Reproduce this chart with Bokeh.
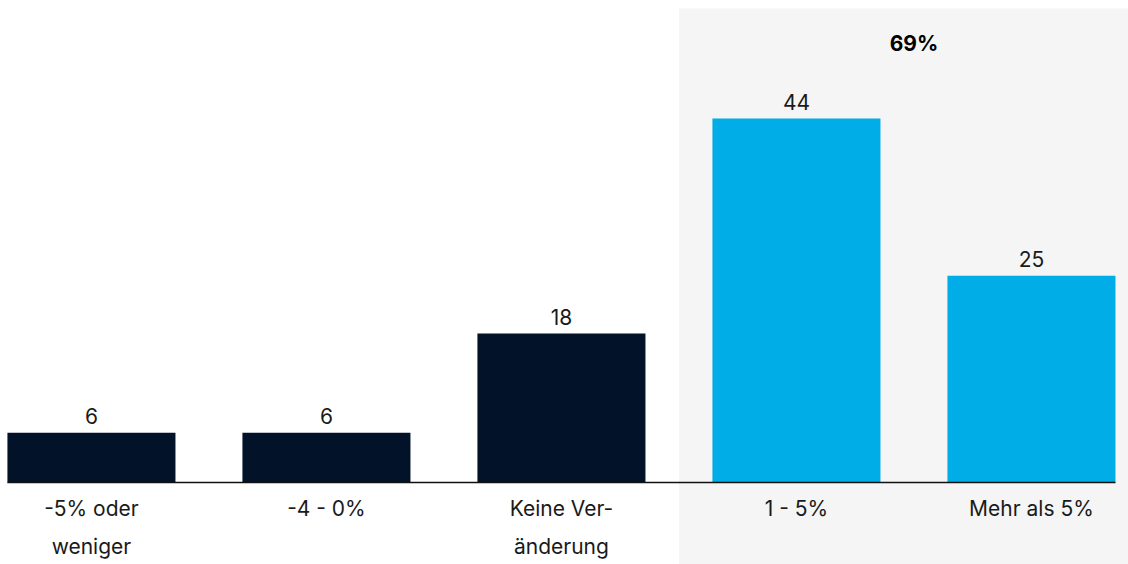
from bokeh.plotting import figure
from bokeh.models import Range1d, ColumnDataSource
from bokeh.core.properties import value
from bokeh.embed import file_html
from bokeh.resources import INLINE

categories = ["-5% oder\nweniger", "-4 - 0%", "Keine Ver-\nänderung", "1 - 5%", "Mehr als 5%"]
values = [6, 6, 18, 44, 25]
highlight = [False, False, False, True, True]
group_label = "69%"

NAVY = "#011229"
BLUE = "#00ADE7"
PANEL = "#F5F5F5"
TEXT = "#1a1a1a"
FONT = "Inter"

x_start, x_end = -0.387, 4.413
y_start, y_end = -9.92, 58.28
panel_top = 57.3
bar_w = 0.715

p = figure(width=1128, height=564, output_backend="svg", toolbar_location=None,
           x_range=Range1d(x_start, x_end), y_range=Range1d(y_start, y_end),
           min_border=0)
p.axis.visible = False
p.grid.visible = False
p.outline_line_color = None
p.background_fill_color = "white"
p.border_fill_color = "white"

xs = list(range(len(categories)))
hx = [x for x, h in zip(xs, highlight) if h]
panel_left = min(hx) - 0.5
p.quad(left=[panel_left], right=[x_end + 1], bottom=[y_start - 1], top=[panel_top],
       fill_color=PANEL, line_color=None)

src = ColumnDataSource(dict(
    x=xs, top=values, cat=categories, lbl=[str(v) for v in values],
    color=[BLUE if h else NAVY for h in highlight],
))
p.vbar(x="x", top="top", bottom=0, width=bar_w, fill_color="color", line_color=None, source=src)

p.line(x=[xs[0] - bar_w / 2, xs[-1] + bar_w / 2], y=[0, 0], line_color="#111111", line_width=1.5)

p.text(x="x", y="top", text="lbl", source=src, text_align="center", text_baseline="bottom",
       y_offset=-9, text_font=value(FONT), text_font_size="21px", text_color=TEXT)

p.text(x="x", y=0, text="cat", source=src, text_align="center", text_baseline="top",
       y_offset=14, text_font=value(FONT), text_font_size="21px", text_color=TEXT,
       text_line_height=1.5)

p.text(x=[(min(hx) + max(hx)) / 2.0], y=[max(values)], text=[group_label], text_align="center",
       text_baseline="middle", y_offset=-75, text_font=value(FONT), text_font_size="21px",
       text_font_style="bold", text_color="#000000")

open("out.html", "w").write(file_html(p, INLINE))
